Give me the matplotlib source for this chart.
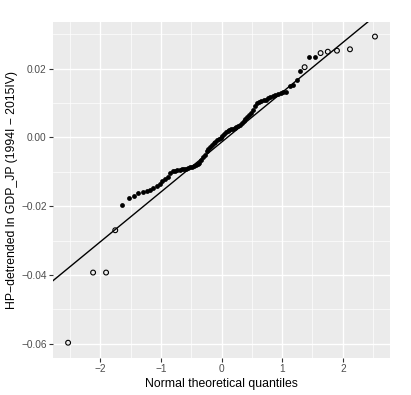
"""
Normal QQ plot of HP-detrended ln GDP_JP, ggplot-grey look.
"""
from statistics import NormalDist

import numpy as np
import matplotlib
matplotlib.use("Agg")
import matplotlib.pyplot as plt
import matplotlib.ticker as ticker

plt.rcParams['font.family'] = ['Liberation Sans', 'DejaVu Sans']

# sorted sample values, 1994I - 2015IV, n = 88
sample = [
    -0.0597, -0.0393, -0.0393, -0.0270, -0.0198, -0.0176, -0.0170, -0.0162,
    -0.0158, -0.0156, -0.0152, -0.0147, -0.0140, -0.0135, -0.0127, -0.0122,
    -0.0115, -0.0104, -0.0099, -0.0097, -0.0096, -0.0094, -0.0093, -0.0092,
    -0.0091, -0.0089, -0.0087, -0.0085, -0.0083, -0.0080, -0.0078, -0.0075,
    -0.0066, -0.0057, -0.0050, -0.0040, -0.0033, -0.0027, -0.0022, -0.0017,
    -0.0013, -0.0009, -0.0005, -0.0002, 0.0003, 0.0010, 0.0016, 0.0019,
    0.0021, 0.0023, 0.0025, 0.0027, 0.0030, 0.0033, 0.0037, 0.0041,
    0.0047, 0.0053, 0.0059, 0.0064, 0.0071, 0.0079, 0.0090, 0.0100,
    0.0103, 0.0105, 0.0108, 0.0110, 0.0113, 0.0116, 0.0120, 0.0124,
    0.0127, 0.0129, 0.0131, 0.0133, 0.0148, 0.0153, 0.0167, 0.0193,
    0.0204, 0.0233, 0.0233, 0.0245, 0.0249, 0.0252, 0.0256, 0.0293,
]
# positions (1-based) drawn as open circles
open_idx = [1, 2, 3, 4, 81, 84, 85, 86, 87, 88]

# reference line
line_intercept = -0.0014
line_slope = 0.01448

x_ticks = [-2, -1, 0, 1, 2]
y_ticks = [-0.06, -0.04, -0.02, 0.00, 0.02]

n = len(sample)
theo = np.array([NormalDist().inv_cdf((i - 0.5) / n) for i in range(1, n + 1)])
y = np.array(sample)
is_open = np.isin(np.arange(1, n + 1), open_idx)

fig = plt.figure(figsize=(4.11, 3.95), dpi=100)
ax = fig.add_axes([0.129, 0.094, 0.820, 0.850])
ax.set_facecolor('#EBEBEB')

xlim = (-2.78, 2.78)
ylim = (-0.0641, 0.0335)
ax.set_xlim(*xlim)
ax.set_ylim(*ylim)

ax.set_xticks(x_ticks)
ax.set_yticks(y_ticks)
ax.xaxis.set_minor_locator(ticker.FixedLocator([-2.5, -1.5, -0.5, 0.5, 1.5, 2.5]))
ax.yaxis.set_minor_locator(ticker.FixedLocator([-0.05, -0.03, -0.01, 0.01, 0.03]))
ax.yaxis.set_major_formatter(ticker.FuncFormatter(lambda v, _: f"{v:.2f}".replace('-', '\u2212')))
ax.xaxis.set_major_formatter(ticker.FuncFormatter(lambda v, _: f"{v:.0f}".replace('-', '\u2212')))

ax.grid(which='major', color='white', lw=1.0)
ax.grid(which='minor', color='white', lw=0.5)
ax.set_axisbelow(True)
for s in ax.spines.values():
    s.set_visible(False)
ax.tick_params(which='major', length=2.6, width=0.8, color='#333333',
               labelcolor='#4D4D4D', labelsize=7.3, pad=2)
ax.tick_params(which='minor', length=0)

# reference line
xx = np.array(xlim)
ax.plot(xx, line_intercept + line_slope * xx, color='black', lw=1.0, zorder=2)

ax.scatter(theo[~is_open], y[~is_open], s=12, color='black', lw=0, zorder=3)
ax.scatter(theo[is_open], y[is_open], s=12, facecolors='none',
           edgecolors='black', lw=0.8, zorder=3)

ax.set_xlabel("Normal theoretical quantiles", fontsize=8.8, labelpad=3)
ax.set_ylabel("HP\u2212detrended ln GDP_JP (1994I \u2212 2015IV)", fontsize=8.8, labelpad=2)

fig.savefig("out.png", dpi=100)
